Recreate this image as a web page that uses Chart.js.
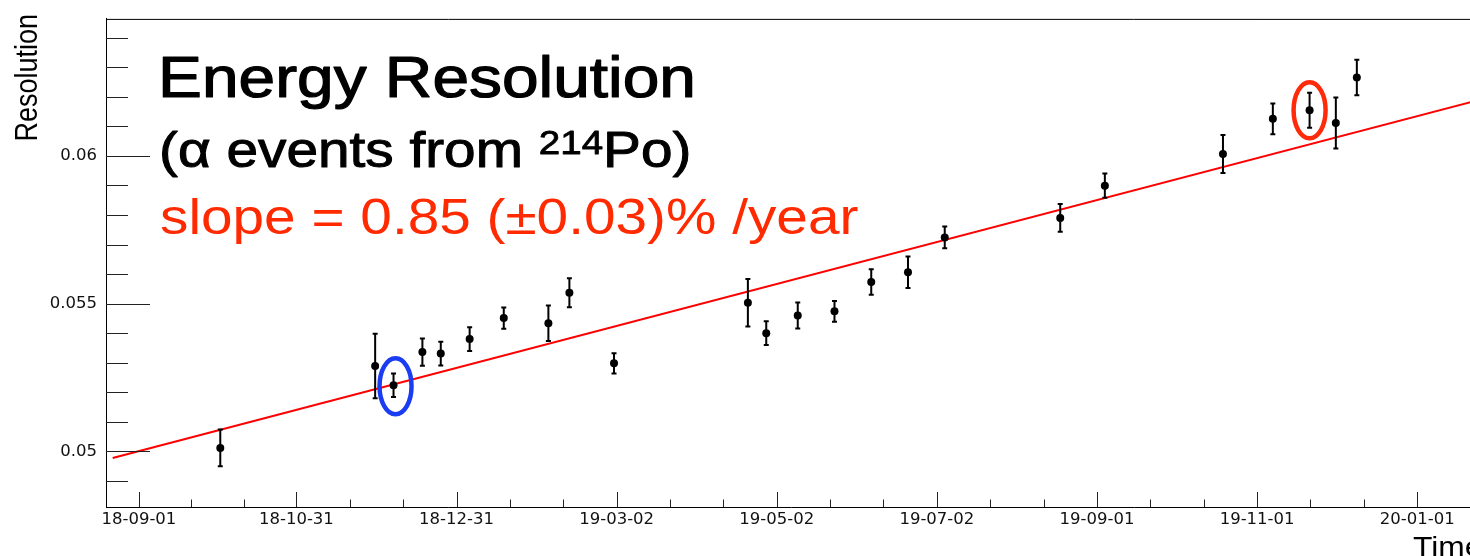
<!DOCTYPE html>
<html>
<head>
<meta charset="utf-8">
<title>Energy Resolution</title>
<script src="https://cdn.jsdelivr.net/npm/chart.js@4.4.1/dist/chart.umd.min.js"></script>
<style>
  html, body { margin: 0; padding: 0; background: #fff; overflow: hidden; }
  #res-chart { display: block; }
</style>
</head>
<body>
<canvas id="res-chart" width="1480" height="556"></canvas>
<script>
// alpha (214Po) energy resolution per calibration run
const runDates = [
  '2018-10-02', '2018-11-30', '2018-12-07', '2018-12-18', '2018-12-25', '2019-01-05',
  '2019-01-18', '2019-02-04', '2019-02-12', '2019-03-01', '2019-04-21', '2019-04-28',
  '2019-05-10', '2019-05-24', '2019-06-07', '2019-06-21', '2019-07-05', '2019-08-18',
  '2019-09-04', '2019-10-19', '2019-11-07', '2019-11-21', '2019-12-01', '2019-12-09'
];
const resolution = [
  0.05012, 0.05289, 0.05224, 0.05336, 0.05331, 0.05380,
  0.05451, 0.05434, 0.05537, 0.05298, 0.05503, 0.05400,
  0.05460, 0.05474, 0.05573, 0.05606, 0.05724, 0.05790,
  0.05899, 0.06006, 0.06125, 0.06154, 0.06111, 0.06265
];
const resolutionErr = [
  0.00062, 0.00109, 0.00040, 0.00046, 0.00040, 0.00040,
  0.00036, 0.00060, 0.00049, 0.00034, 0.00080, 0.00040,
  0.00044, 0.00035, 0.00043, 0.00053, 0.00037, 0.00047,
  0.00041, 0.00064, 0.00052, 0.00059, 0.00086, 0.00060
];

// linear fit, 0.85 %/year
const fitDates = ['2018-08-22', '2020-01-25'];
const fitValues = [0.04978, 0.06190];

const xTickLabels = ['18-09-01', '18-10-31', '18-12-31', '19-03-02', '19-05-02',
                     '19-07-02', '19-09-01', '19-11-01', '20-01-01'];
const yTickValues = [0.05, 0.055, 0.06];

// runs that get a ring around them
const blueRun = 2;
const redRun = 21;

const toTime = d => Date.parse(d + 'T00:00:00Z');
const X_MIN = Date.parse('2018-08-19T11:00:00Z');
const X_MAX = Date.parse('2020-01-23T09:36:00Z');
const Y_MIN = 0.048121;
const Y_MAX = 0.064631;
const STRETCH = 1.135;
const SANS = "'Liberation Sans', Arial, sans-serif";

function wideText(ctx, text, x, y, size, color, weight) {
  ctx.save();
  ctx.font = size + 'px ' + SANS;
  ctx.fillStyle = color;
  ctx.textAlign = 'left';
  ctx.textBaseline = 'alphabetic';
  ctx.translate(x, y);
  ctx.scale(STRETCH, 1);
  ctx.fillText(text, 0, 0);
  if (weight) {
    // a thin outline makes the big headline a little heavier
    ctx.strokeStyle = color;
    ctx.lineWidth = weight;
    ctx.lineJoin = 'round';
    ctx.strokeText(text, 0, 0);
  }
  const w = ctx.measureText(text).width * STRETCH;
  ctx.restore();
  return w;
}

const rootStyle = {
  id: 'rootStyle',
  beforeDatasetDraw(chart, args) {
    if (args.index !== 0) return;
    const { ctx, scales: { x, y } } = chart;
    ctx.save();
    ctx.strokeStyle = '#000';
    ctx.lineWidth = 2;
    runDates.forEach((d, i) => {
      const px = x.getPixelForValue(toTime(d));
      const top = y.getPixelForValue(resolution[i] + resolutionErr[i]);
      const bot = y.getPixelForValue(resolution[i] - resolutionErr[i]);
      ctx.beginPath();
      ctx.moveTo(px, top); ctx.lineTo(px, bot);
      ctx.moveTo(px - 2.5, top); ctx.lineTo(px + 2.5, top);
      ctx.moveTo(px - 2.5, bot); ctx.lineTo(px + 2.5, bot);
      ctx.stroke();
    });
    ctx.restore();
  },
  afterDraw(chart) {
    const { ctx, chartArea: area, scales: { x, y } } = chart;
    ctx.save();
    ctx.strokeStyle = '#000';
    ctx.lineWidth = 1;

    // top frame
    ctx.beginPath();
    ctx.moveTo(area.left, area.top + 0.5);
    ctx.lineTo(area.right, area.top + 0.5);
    ctx.stroke();

    // x ticks, two minor ticks per division, drawn inside the frame
    const majors = xTickLabels.map(l => toTime('20' + l));
    const step = majors[1] - majors[0];
    ctx.strokeStyle = '#222';
    ctx.beginPath();
    majors.forEach((t, i) => {
      const px = Math.round(x.getPixelForValue(t)) + 0.5;
      ctx.moveTo(px, area.bottom); ctx.lineTo(px, area.bottom - 15);
      const next = i < majors.length - 1 ? majors[i + 1] : t + step;
      for (let k = 1; k < 3; k++) {
        const mp = Math.round(x.getPixelForValue(t + (next - t) * k / 3)) + 0.5;
        if (mp < area.right) { ctx.moveTo(mp, area.bottom); ctx.lineTo(mp, area.bottom - 7.5); }
      }
    });
    // y ticks every 0.001, longer at the labelled ones
    for (let k = 49; k <= 64; k++) {
      const py = Math.round(y.getPixelForValue(k / 1000)) + 0.5;
      ctx.moveTo(area.left, py);
      ctx.lineTo(area.left + (k % 5 === 0 ? 44 : 22), py);
    }
    ctx.stroke();

    // rings around the two highlighted runs
    const ring = (i, color, dx, dy) => {
      const cx = x.getPixelForValue(toTime(runDates[i])) + dx;
      const cy = y.getPixelForValue(resolution[i]) + dy;
      ctx.beginPath();
      ctx.ellipse(cx, cy, 16, 28, 0, 0, Math.PI * 2);
      ctx.strokeStyle = color;
      ctx.lineWidth = 4.5;
      ctx.stroke();
    };
    ring(blueRun, '#1a3cf2', 2, 1);
    ring(redRun, '#ff2a0a', 0, 0);
    ctx.restore();

    // headline text
    wideText(ctx, 'Energy Resolution', 158, 97, 58, '#000', 1.2);
    let cx = 159;
    cx += wideText(ctx, '(\u03b1 events from ', cx, 167, 50, '#000', 1);
    cx += wideText(ctx, '214', cx, 154, 34, '#000', 0.8);
    wideText(ctx, 'Po)', cx, 167, 50, '#000', 1);
    wideText(ctx, 'slope = 0.85 (\u00b10.03)% /year', 160, 234, 50, '#ff2a00');

    // axis titles
    wideText(ctx, 'Time', 1413, 556, 28, '#000');
    ctx.save();
    ctx.font = '27px ' + SANS;
    ctx.fillStyle = '#000';
    ctx.textAlign = 'right';
    ctx.textBaseline = 'alphabetic';
    ctx.translate(37, 14);
    ctx.rotate(-Math.PI / 2);
    ctx.scale(1, STRETCH);
    ctx.fillText('Resolution', 0, 0);
    ctx.restore();
  }
};

const tickFont = { family: "'DejaVu Sans', sans-serif", size: 16.5 };

new Chart(document.getElementById('res-chart'), {
  type: 'scatter',
  data: {
    datasets: [
      {
        data: runDates.map((d, i) => ({ x: toTime(d), y: resolution[i] })),
        pointRadius: 4,
        pointHoverRadius: 4,
        backgroundColor: '#000',
        borderWidth: 0
      },
      {
        type: 'line',
        data: fitDates.map((d, i) => ({ x: toTime(d), y: fitValues[i] })),
        borderColor: '#ff0000',
        borderWidth: 2,
        pointRadius: 0,
        fill: false,
        tension: 0
      }
    ]
  },
  options: {
    responsive: false,
    animation: false,
    devicePixelRatio: 1,
    layout: { padding: { top: 15, right: 0, bottom: 0, left: 0 } },
    plugins: { legend: { display: false }, tooltip: { enabled: false } },
    scales: {
      x: {
        type: 'linear',
        position: 'bottom',
        min: X_MIN,
        max: X_MAX,
        grid: { display: false, drawTicks: false },
        border: { display: true, color: '#000', width: 1 },
        afterBuildTicks: s => { s.ticks = xTickLabels.map(l => ({ value: toTime('20' + l) })); },
        afterFit: s => { s.height = 49; },
        ticks: {
          autoSkip: false,
          maxRotation: 0,
          padding: 3,
          color: '#111',
          font: tickFont,
          callback: (v, i) => xTickLabels[i]
        }
      },
      y: {
        type: 'linear',
        min: Y_MIN,
        max: Y_MAX,
        grid: { display: false, drawTicks: false },
        border: { display: true, color: '#000', width: 1 },
        afterBuildTicks: s => { s.ticks = yTickValues.map(v => ({ value: v })); },
        afterFit: s => { s.width = 106; },
        ticks: {
          padding: 9,
          color: '#111',
          font: tickFont,
          callback: v => String(v)
        }
      }
    }
  },
  plugins: [rootStyle]
});
</script>
</body>
</html>
